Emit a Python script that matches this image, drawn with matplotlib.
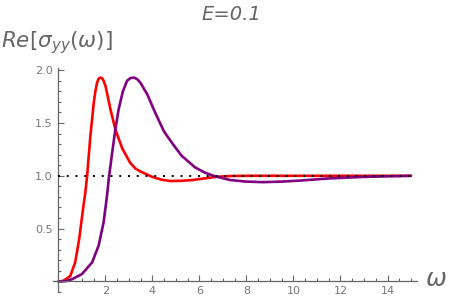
import numpy as np
import matplotlib
matplotlib.use("Agg")
import matplotlib.pyplot as plt
from matplotlib.ticker import MultipleLocator

# values
w_red = [0, 0.2, 0.5, 0.71, 0.88, 1.03, 1.14, 1.22, 1.35, 1.50, 1.57, 1.64, 1.71, 1.78,
         1.85, 1.92, 2.0, 2.07, 2.21, 2.42, 2.71, 3.06, 3.27, 3.49, 3.99, 4.4, 4.75, 5.2,
         5.7, 6.2, 6.7, 7.3, 8.0, 10.0, 12.0, 15.0]
s_red = [0, 0.005, 0.05, 0.18, 0.40, 0.66, 0.84, 1.0, 1.36, 1.69, 1.80, 1.88, 1.92, 1.93,
         1.925, 1.90, 1.85, 1.78, 1.63, 1.44, 1.26, 1.12, 1.07, 1.04, 0.99, 0.962, 0.951, 0.952,
         0.96, 0.975, 0.99, 0.998, 1.0, 1.0, 1.0, 1.0]

w_pur = [0, 0.3, 0.57, 1.0, 1.43, 1.71, 1.92, 2.07, 2.14, 2.28, 2.42, 2.56, 2.74,
         2.92, 3.06, 3.21, 3.35, 3.49, 3.78, 4.13, 4.49, 4.9, 5.24, 5.81, 6.23, 6.6,
         7.3, 8.0, 8.7, 9.5, 10.3, 11.5, 13.0, 15.0]
s_pur = [0, 0.003, 0.02, 0.07, 0.18, 0.34, 0.56, 0.82, 0.975, 1.21, 1.44, 1.63, 1.80,
         1.90, 1.925, 1.93, 1.915, 1.88, 1.77, 1.59, 1.42, 1.29, 1.19, 1.08, 1.03, 1.0,
         0.96, 0.945, 0.94, 0.945, 0.955, 0.975, 0.99, 1.0]

ref_level = 1.0
title = "E=0.1"

fig = plt.figure(figsize=(4.5, 3.01), dpi=100)
ax = fig.add_axes([0.1169, 0.0299, 0.8095, 0.744])

gray = "#666666"

ax.plot([0, 15], [ref_level, ref_level], color="black", lw=1.4,
        linestyle=(0, (1, 3.5)), zorder=3)
ax.plot(w_red, s_red, color="#ff0000", lw=1.9, zorder=2,
        solid_capstyle="round", solid_joinstyle="round")
ax.plot(w_pur, s_pur, color="#800080", lw=1.9, zorder=2,
        solid_capstyle="round", solid_joinstyle="round")

ax.set_xlim(-0.25, 15.25)
ax.set_ylim(-0.1, 2.02)

for s in ["top", "right"]:
    ax.spines[s].set_visible(False)
ax.spines["left"].set_position(("data", 0))
ax.spines["bottom"].set_position(("data", 0))
for s in ["left", "bottom"]:
    ax.spines[s].set_color(gray)
    ax.spines[s].set_linewidth(0.9)

ax.set_xticks([2, 4, 6, 8, 10, 12, 14])
ax.set_yticks([0.5, 1.0, 1.5, 2.0])
ax.set_yticklabels(["0.5", "1.0", "1.5", "2.0"])
ax.xaxis.set_minor_locator(MultipleLocator(0.5))
ax.yaxis.set_minor_locator(MultipleLocator(0.1))
ax.tick_params(which="both", direction="in", color=gray, width=0.8,
               labelcolor="#777777", labelsize=8)
ax.tick_params(which="major", length=4)
ax.tick_params(which="minor", length=2.5)
ax.tick_params(axis="x", pad=3)
ax.tick_params(axis="y", pad=4)

fig.text(0.513, 0.952, title, ha="center", va="center", fontsize=14,
         style="italic", color=gray)
fig.text(0.003, 0.857, r"$Re[\sigma_{yy}(\omega)]$", ha="left", va="center",
         fontsize=15.5, color=gray)
fig.text(0.968, 0.072, r"$\omega$", ha="center", va="center", fontsize=18,
         color=gray)

fig.savefig("out.png", dpi=100)
